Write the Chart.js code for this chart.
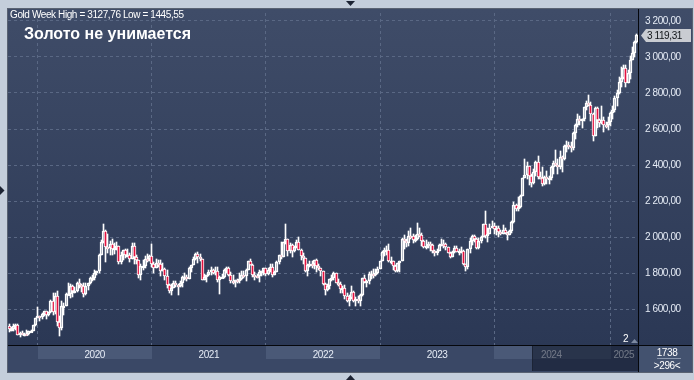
<!DOCTYPE html>
<html><head><meta charset="utf-8">
<script src="https://cdn.jsdelivr.net/npm/chart.js@4.4.1/dist/chart.umd.min.js"></script>
<style>
html,body{margin:0;padding:0;width:694px;height:380px;overflow:hidden;background:#c4cedb;}
#wrap{position:relative;width:694px;height:380px;}
canvas{position:absolute;left:0;top:0;}
.t{position:absolute;white-space:nowrap;color:#fff;font-family:'Liberation Sans',Arial,sans-serif;font-size:10px;letter-spacing:-0.4px;line-height:12px;}
#hdr{left:10px;top:9px;}
#ttl{left:24px;top:25px;font-weight:bold;font-size:16px;letter-spacing:0;line-height:18px;}
#cnt{left:639px;width:56px;text-align:center;top:347px;}
#vis{left:639px;width:56px;text-align:center;top:360px;}
#two{left:623px;top:333px;}
</style></head>
<body><div id="wrap">
<canvas id="c" width="694" height="380"></canvas>
<div class="t" id="hdr"></div>
<div class="t" id="ttl">Золото не унимается</div>
<div class="t" id="two">2</div>
<div class="t" id="cnt">1738</div>
<div class="t" id="vis">&gt;296&lt;</div>
</div>
<script>
// ---- weekly candles, first week starting Monday 2019-10-07 ----
const firstWeek = '2019-10-07';

const open2019 = [1505,1488,1490,1505,1514,1459,1468,1462,1464,1460,1476,1478,1511];
const high2019 = [1517,1499,1518,1516,1516,1475,1478,1466,1485,1481,1482,1514,1553];
const low2019  = [1474,1476,1481,1485,1456,1445.55,1456,1452,1458,1456,1471,1477,1508];
const close2019= [1488,1490,1505,1514,1459,1468,1462,1464,1460,1476,1478,1511,1552];

const open2020 = [1552,1562,1557,1571,1589,1570,1584,1643,1585,1674,1530,1498,1617,1620,1683,1683,1726,1700,1703,1743,1734,1730,1683,1730,1743,1771,1774,1798,1810,1902,1975,2035,1944,1940,1964,1934,1940,1950,1862,1899,1930,1899,1902,1879,1951,1889,1871,1788,1839,1839,1881,1877];
const high2020 = [1611,1563,1576,1591,1592,1585,1649,1689,1692,1703,1560,1645,1636,1690,1747,1738,1736,1722,1751,1765,1738,1745,1744,1745,1779,1789,1818,1814,1906,1984,2075,2040,2016,1980,1992,1967,1973,1953,1917,1931,1933,1933,1911,1965,1966,1900,1875,1848,1875,1897,1906,1900];
const low2020  = [1549,1536,1547,1564,1548,1562,1580,1565,1575,1505,1451,1482,1567,1615,1680,1660,1670,1688,1693,1718,1693,1670,1680,1704,1742,1757,1764,1791,1803,1898,1966,1863,1911,1902,1902,1906,1929,1849,1848,1873,1882,1890,1860,1876,1850,1853,1774,1764,1820,1826,1859,1868];
const close2020= [1562,1557,1571,1589,1570,1584,1643,1585,1674,1530,1498,1617,1620,1683,1683,1726,1700,1703,1743,1734,1730,1683,1730,1743,1771,1774,1798,1810,1902,1975,2035,1944,1940,1964,1934,1940,1950,1862,1899,1930,1899,1902,1879,1951,1889,1871,1788,1839,1839,1881,1877,1895];

const open2021 = [1895,1850,1829,1856,1848,1814,1824,1784,1734,1700,1719,1745,1733,1729,1744,1777,1777,1769,1831,1844,1881,1905,1892,1877,1764,1781,1787,1808,1815,1802,1814,1763,1780,1781,1818,1827,1787,1754,1750,1761,1757,1768,1792,1783,1818,1865,1846,1792,1783,1782,1805,1811];
const high2021 = [1959,1864,1876,1875,1875,1855,1827,1816,1738,1740,1755,1755,1737,1759,1784,1798,1789,1836,1846,1890,1913,1916,1904,1878,1795,1789,1818,1834,1825,1832,1832,1782,1795,1823,1834,1834,1809,1787,1764,1770,1800,1813,1810,1823,1869,1877,1848,1808,1793,1815,1814,1831];
const low2021  = [1835,1802,1826,1832,1785,1810,1761,1717,1687,1677,1718,1721,1678,1723,1725,1763,1757,1765,1808,1843,1871,1856,1866,1761,1762,1750,1783,1792,1794,1790,1753,1684,1772,1775,1800,1782,1745,1737,1721,1746,1746,1760,1771,1758,1817,1843,1778,1762,1771,1753,1783,1790];
const close2021= [1850,1829,1856,1848,1814,1824,1784,1734,1700,1719,1745,1733,1729,1744,1777,1777,1769,1831,1844,1881,1905,1892,1877,1764,1781,1787,1808,1815,1802,1814,1763,1780,1781,1818,1827,1787,1754,1750,1761,1757,1768,1792,1783,1818,1865,1846,1792,1783,1782,1805,1811,1829];

const open2022 = [1829,1797,1818,1835,1791,1808,1859,1898,1889,1970,1988,1921,1958,1925,1946,1975,1931,1896,1883,1811,1846,1853,1851,1871,1840,1827,1811,1742,1708,1727,1766,1775,1802,1747,1738,1712,1716,1675,1644,1661,1695,1644,1657,1644,1681,1771,1751,1755,1797,1797,1793,1798];
const high2022 = [1831,1830,1848,1853,1810,1865,1902,1974,1974,2070,1990,1966,1960,1949,1982,1998,1936,1910,1886,1849,1870,1870,1875,1880,1848,1830,1813,1745,1739,1767,1788,1807,1802,1765,1749,1729,1735,1688,1676,1729,1700,1668,1675,1684,1772,1787,1762,1805,1810,1825,1823,1833];
const low2022  = [1782,1790,1805,1780,1788,1806,1850,1878,1889,1959,1895,1910,1890,1915,1940,1929,1872,1850,1808,1786,1836,1829,1825,1805,1816,1784,1732,1681,1698,1711,1754,1764,1745,1727,1688,1691,1654,1639,1615,1659,1640,1618,1634,1617,1673,1747,1721,1739,1765,1773,1785,1795];
const close2022= [1797,1818,1835,1791,1808,1859,1898,1889,1970,1988,1921,1958,1925,1946,1975,1931,1896,1883,1811,1846,1853,1851,1871,1840,1827,1811,1742,1708,1727,1766,1775,1802,1747,1738,1712,1716,1675,1644,1661,1695,1644,1657,1644,1681,1771,1751,1755,1797,1797,1793,1798,1824];

const open2023 = [1824,1865,1920,1926,1928,1865,1865,1842,1811,1856,1868,1989,1978,1969,2007,2004,1983,1990,2017,2011,1977,1946,1948,1961,1958,1921,1919,1925,1955,1962,1959,1943,1914,1889,1915,1940,1919,1924,1925,1849,1833,1932,1981,2006,1992,1940,1981,2002,2072,2004,2019,2053];
const high2023 = [1865,1921,1937,1949,1960,1890,1870,1846,1858,1870,1994,2010,1988,2032,2049,2015,2010,2081,2048,2022,1985,1983,1971,1971,1959,1931,1935,1963,1987,1982,1968,1947,1916,1923,1953,1953,1933,1947,1926,1850,1935,1997,2009,2010,1994,1993,2008,2075,2146,2048,2070,2088];
const low2023  = [1823,1865,1896,1900,1861,1853,1819,1809,1804,1809,1867,1934,1944,1950,1992,1969,1975,1982,2003,1952,1937,1933,1940,1925,1910,1893,1902,1921,1951,1942,1928,1911,1885,1887,1911,1915,1901,1913,1846,1810,1823,1909,1954,1972,1932,1932,1965,2001,1995,1973,2016,2052];
const close2023= [1865,1920,1926,1928,1865,1865,1842,1811,1856,1868,1989,1978,1969,2007,2004,1983,1990,2017,2011,1977,1946,1948,1961,1958,1921,1919,1925,1955,1962,1959,1943,1914,1889,1915,1940,1919,1924,1925,1849,1833,1932,1981,2006,1992,1940,1981,2002,2072,2004,2019,2053,2063];

const open2024 = [2063,2045,2049,2029,2018,2039,2024,2013,2035,2083,2179,2155,2165,2230,2329,2344,2392,2337,2301,2360,2415,2334,2327,2293,2333,2322,2326,2391,2411,2400,2387,2443,2431,2507,2512,2503,2497,2577,2621,2658,2653,2657,2721,2747,2736,2685,2563,2715,2650,2633,2648,2622];
const high2024 = [2079,2062,2062,2041,2065,2048,2031,2041,2088,2195,2185,2222,2236,2330,2431,2417,2396,2352,2378,2422,2450,2364,2387,2338,2368,2339,2392,2424,2483,2432,2477,2448,2509,2531,2528,2529,2581,2626,2685,2672,2658,2722,2758,2790,2750,2690,2721,2721,2657,2726,2664,2638];
const low2024  = [2017,2013,2002,2010,2016,2015,1984,2009,2024,2078,2146,2145,2160,2228,2327,2324,2291,2277,2292,2338,2325,2321,2286,2287,2295,2293,2319,2352,2393,2353,2380,2364,2428,2470,2491,2472,2486,2546,2613,2625,2603,2645,2708,2726,2643,2536,2560,2605,2613,2628,2583,2603];
const close2024= [2045,2049,2029,2018,2039,2024,2013,2035,2083,2179,2155,2165,2230,2329,2344,2392,2337,2301,2360,2415,2334,2327,2293,2333,2322,2326,2391,2411,2400,2387,2443,2431,2507,2512,2503,2497,2577,2621,2658,2653,2657,2721,2747,2736,2685,2563,2715,2650,2633,2648,2622,2621];

const open2025 = [2621,2640,2690,2703,2770,2800,2861,2882,2936,2858,2910,2984,3023,3085];
const high2025 = [2665,2697,2726,2786,2817,2887,2942,2955,2956,2930,3004,3057,3087,3127.76];
const low2025  = [2597,2615,2656,2692,2730,2792,2832,2880,2832,2855,2880,2982,2999,3076];
const close2025= [2640,2690,2703,2770,2800,2861,2882,2936,2858,2910,2984,3023,3085,3119.31];

const yearLabels = ['2020','2021','2022','2023','2024','2025'];
const shadedYears = ['2020','2022','2024'];
const priceTicks = [1600,1800,2000,2200,2400,2600,2800,3000,3200];
const yMin = 1401, yMax = 3244;
const navigatorFromWeek = 238;

const opens  = [...open2019,...open2020,...open2021,...open2022,...open2023,...open2024,...open2025];
const highs  = [...high2019,...high2020,...high2021,...high2022,...high2023,...high2024,...high2025];
const lows   = [...low2019,...low2020,...low2021,...low2022,...low2023,...low2024,...low2025];
const closes = [...close2019,...close2020,...close2021,...close2022,...close2023,...close2024,...close2025];

const t0 = Date.parse(firstWeek + 'T00:00:00Z');
const weekLabels = closes.map((_, i) => new Date(t0 + i * 7 * 864e5).toISOString().slice(0, 10));

// year boundaries from categories
const yearStart = {};
weekLabels.forEach((d, i) => { const y = d.slice(0, 4); if (i > 0 && weekLabels[i-1].slice(0,4) !== y) yearStart[y] = i; });
const yearStartIdx = new Set(Object.values(yearStart));
const yearLabelAt = new Map();
yearLabels.forEach(y => {
  const s = yearStart[y];
  const nxt = yearStart[String(+y + 1)];
  const e = nxt !== undefined ? nxt : weekLabels.length;
  yearLabelAt.set(Math.floor((s + e) / 2), y);
});

const fmtAxis = v => { const [i, f] = Number(v).toFixed(2).split('.'); return i.replace(/\B(?=(\d{3})+(?!\d))/g, ' ') + ',' + f; };
const fmtPlain = v => Number(v).toFixed(2).replace('.', ',');

document.getElementById('hdr').textContent =
  'Gold Week High = ' + fmtPlain(Math.max(...highs)) + ' Low = ' + fmtPlain(Math.min(...lows));

const FONT = "'Liberation Sans',Arial,sans-serif";
const GRID = '#5a6884';
const RED = '#e3123f';

const bodyData  = opens.map((o, i) => [o, closes[i]]);
const upperWick = opens.map((o, i) => [Math.max(o, closes[i]), highs[i]]);
const lowerWick = opens.map((o, i) => [lows[i], Math.min(o, closes[i])]);
const bodyFill  = opens.map((o, i) => closes[i] < o ? RED : 'rgba(0,0,0,0)');

const snap = {
  id: 'snap',
  afterDatasetsUpdate(chart) {
    chart.data.datasets.forEach((ds, di) => {
      chart.getDatasetMeta(di).data.forEach(el => {
        el.x = Math.floor(el.x) + 0.5;
        let a = Math.round(el.y), b = Math.round(el.base);
        if (ds.isBody && Math.abs(a - b) < 2) { const m = Math.min(a, b); a = m; b = m + 2; }
        el.y = a; el.base = b;
      });
    });
  }
};

const tri = (ctx, pts, col) => { ctx.beginPath(); ctx.moveTo(pts[0], pts[1]); ctx.lineTo(pts[2], pts[3]); ctx.lineTo(pts[4], pts[5]); ctx.closePath(); ctx.fillStyle = col; ctx.fill(); };

const deco = {
  id: 'deco',
  beforeDraw(chart) {
    const { ctx, chartArea: a, scales: { x } } = chart;
    const L = 8, T = 9, R = 692, B = 372;
    ctx.save();
    ctx.fillStyle = '#c4cedb'; ctx.fillRect(0, 0, 694, 380);
    const g = ctx.createLinearGradient(0, T, 0, a.bottom);
    g.addColorStop(0, '#3f4c68'); g.addColorStop(1, '#2b3855');
    ctx.fillStyle = g; ctx.fillRect(L, T, R - L, a.bottom - T);
    ctx.fillStyle = '#3a4866'; ctx.fillRect(L, a.bottom, R - L, B - a.bottom);
    ctx.fillStyle = '#4a5977';
    shadedYears.forEach(y => {
      const s = yearStart[y], n = yearStart[String(+y + 1)];
      const x0 = Math.round(x.getPixelForValue(s));
      const x1 = n !== undefined ? Math.round(x.getPixelForValue(n)) : a.right;
      ctx.fillRect(x0, a.bottom + 1, x1 - x0, 13);
    });
    ctx.fillStyle = '#43526f'; ctx.fillRect(a.right, a.bottom, R - a.right, B - a.bottom);
    ctx.restore();
    ctx.letterSpacing = '-0.4px';
  },
  afterDraw(chart) {
    const { ctx, chartArea: a, scales: { x, y } } = chart;
    const L = 8, T = 9, R = 692, B = 372;
    ctx.save();
    // navigator window over the time band
    const nx = Math.round(x.getPixelForValue(navigatorFromWeek));
    ctx.fillStyle = 'rgba(14,22,40,0.55)';
    ctx.fillRect(nx, a.bottom + 1, a.right - nx, B - a.bottom - 2);
    ctx.fillStyle = '#1c2436'; ctx.fillRect(nx, a.bottom + 1, 1, B - a.bottom - 2);
    // separators
    ctx.fillStyle = '#05070c';
    ctx.fillRect(a.right, T, 1, B - T);
    ctx.fillRect(L, a.bottom, R - L, 1);
    // panel border
    ctx.strokeStyle = '#596272'; ctx.lineWidth = 1;
    ctx.strokeRect(L - 0.5, T - 0.5, R - L + 1, B - T + 1);
    // fraction line in counter box
    ctx.fillStyle = '#8a97ad'; ctx.fillRect(657, 358, 24, 1);
    // last price tag
    const last = closes[closes.length - 1];
    const py = Math.round(y.getPixelForValue(last));
    ctx.beginPath();
    ctx.moveTo(641, py + 0.5); ctx.lineTo(646, py - 6); ctx.lineTo(691, py - 6);
    ctx.lineTo(691, py + 7); ctx.lineTo(646, py + 7); ctx.closePath();
    ctx.fillStyle = '#c9ccd2'; ctx.fill();
    ctx.fillStyle = '#101418'; ctx.font = '10px ' + FONT; ctx.textBaseline = 'middle'; ctx.textAlign = 'left';
    ctx.fillText(fmtAxis(last), 647, py + 1);
    // small markers
    tri(ctx, [346, 1, 355, 1, 350.5, 6], '#1c2333');
    tri(ctx, [346, 380, 355, 380, 350.5, 375], '#1c2333');
    tri(ctx, [0, 186, 0, 195, 4.5, 190.5], '#1c2333');
    tri(ctx, [631, 343, 638, 343, 634.5, 339], '#7d8aa2');
    ctx.restore();
  }
};

new Chart(document.getElementById('c'), {
  type: 'bar',
  data: {
    labels: weekLabels,
    datasets: [
      { label: 'body', isBody: true, data: bodyData, backgroundColor: bodyFill, borderColor: '#ffffff', borderWidth: 1, borderSkipped: false, barThickness: 3, grouped: false, order: 0 },
      { label: 'upper', data: upperWick, backgroundColor: '#ffffff', borderWidth: 0, barThickness: 1, grouped: false, order: 1 },
      { label: 'lower', data: lowerWick, backgroundColor: '#ffffff', borderWidth: 0, barThickness: 1, grouped: false, order: 2 }
    ]
  },
  options: {
    responsive: false, animation: false, events: [],
    layout: { padding: { left: 8, top: 10, right: 2, bottom: 8 } },
    plugins: { legend: { display: false }, tooltip: { enabled: false } },
    scales: {
      x: {
        type: 'category', offset: true,
        grid: { offset: false, drawTicks: false, lineWidth: 1, color: c => yearStartIdx.has(c.index) ? GRID : 'rgba(0,0,0,0)' },
        border: { display: false, dash: [3, 3] },
        ticks: { autoSkip: false, maxRotation: 0, minRotation: 0, padding: 4, color: '#e6ecf6', font: { family: FONT, size: 10 },
                 callback: (v, i) => yearLabelAt.get(i) || '' },
        afterFit: s => { s.height = 27; }
      },
      y: {
        position: 'right', min: yMin, max: yMax,
        afterBuildTicks: s => { s.ticks = priceTicks.map(v => ({ value: v })); },
        grid: { drawTicks: false, color: GRID, lineWidth: 1 },
        border: { display: false, dash: [3, 3] },
        ticks: { padding: 7, color: '#e6ecf6', font: { family: FONT, size: 10 }, callback: v => fmtAxis(v) },
        afterFit: s => { s.width = 54; }
      }
    }
  },
  plugins: [snap, deco]
});
</script>
</body></html>
